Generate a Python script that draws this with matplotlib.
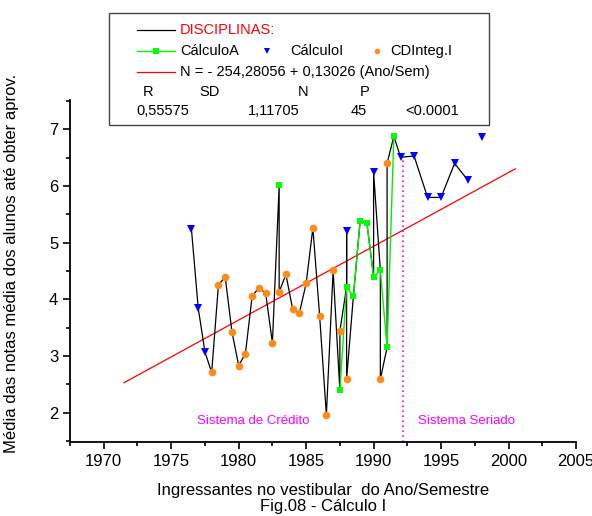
import numpy as np
import matplotlib.pyplot as plt
from matplotlib.lines import Line2D
from matplotlib.patches import Rectangle
from matplotlib.ticker import MultipleLocator

plt.rcParams['font.family'] = ['Liberation Sans', 'DejaVu Sans']

# dados (ano/semestre, nota media)
calc_a_anos = [1983.0, 1983.5, 1987.5, 1988.0, 1988.5, 1989.0, 1989.5, 1990.0, 1990.5, 1991.0, 1991.5]
calc_a_notas = [6.01, np.nan, 2.39, 4.22, 4.05, 5.38, 5.35, 4.40, 4.51, 3.15, 6.88]

calc_i_anos = [1976.5, 1977.0, 1977.5, 1988.0, 1990.0, 1992.0, 1993.0, 1994.0, 1995.0, 1996.0, 1997.0, 1998.0]
calc_i_notas = [5.24, 3.85, 3.07, 5.20, 6.24, 6.51, 6.53, 5.80, 5.80, 6.40, 6.10, 6.87]

cdint_anos = [1978.0, 1978.5, 1979.0, 1979.5, 1980.0, 1980.5, 1981.0, 1981.5, 1982.0, 1982.5,
              1983.0, 1983.5, 1984.0, 1984.5, 1985.0, 1985.5, 1986.0, 1986.5, 1987.0, 1987.5,
              1988.0, 1990.5, 1991.0]
cdint_notas = [2.71, 4.25, 4.40, 3.43, 2.83, 3.04, 4.06, 4.20, 4.11, 3.23,
               4.13, 4.44, 3.83, 3.76, 4.28, 5.26, 3.71, 1.96, 4.51, 3.44,
               2.59, 2.59, 6.40]

# regressao linear
intercepto = -254.28056
inclinacao = 0.13026
reg_anos = [1971.5, 2000.5]

ano_mudanca = 1992.2   # Sistema de Credito -> Sistema Seriado
ultimo_ano_linha = 1997.0

W, H = 592, 516
fig = plt.figure(figsize=(W / 100, H / 100), dpi=100)
ax = fig.add_axes([70 / W, 1 - 442 / H, 506 / W, 342 / H])

# linha preta ligando todas as disciplinas
pts = []
for rank, (anos, notas) in enumerate([(calc_a_anos, calc_a_notas),
                                      (calc_i_anos, calc_i_notas),
                                      (cdint_anos, cdint_notas)]):
    for a, n in zip(anos, notas):
        if not np.isnan(n) and a <= ultimo_ano_linha:
            pts.append((a, rank, n))
pts.sort()
ax.plot([p[0] for p in pts], [p[2] for p in pts], color='black', lw=0.9, zorder=2)

ax.plot(calc_a_anos, calc_a_notas, color='#00ee00', lw=1.0, marker='s', ms=4.2,
        mfc='#00ff00', mec='#00ff00', mew=0, zorder=3)
ax.plot(calc_i_anos, calc_i_notas, ls='none', marker='v', ms=6, mew=0, color='#0000ff', zorder=4)
ax.plot(cdint_anos, cdint_notas, ls='none', marker='o', ms=5.5, mew=0, color='#ff8c1a', zorder=4)

xr = np.array(reg_anos)
ax.plot(xr, intercepto + inclinacao * xr, color='#ff0000', lw=0.9, zorder=1)

ax.plot([ano_mudanca, ano_mudanca], [1.48, 6.5], color='#ff00ff', lw=1.2,
        ls=(0, (1, 2)), zorder=1)
ax.text(1981.1, 1.85, 'Sistema de Crédito', color='#ff00ff', fontsize=9.5, ha='center', va='center')
ax.text(1993.3, 1.85, 'Sistema Seriado', color='#ff00ff', fontsize=9.5, ha='left', va='center')

ax.set_xlim(1967.5, 2005)
ax.set_ylim(1.48, 7.52)
ax.xaxis.set_major_locator(MultipleLocator(5))
ax.xaxis.set_minor_locator(MultipleLocator(2.5))
ax.yaxis.set_major_locator(MultipleLocator(1))
ax.yaxis.set_minor_locator(MultipleLocator(0.5))
ax.tick_params(which='major', direction='out', length=5, width=1.2, labelsize=12)
ax.tick_params(which='minor', direction='out', length=3, width=1.2)
for s in ['top', 'right']:
    ax.spines[s].set_visible(False)
for s in ['left', 'bottom']:
    ax.spines[s].set_linewidth(1.3)

ax.set_xlabel('Ingressantes no vestibular  do Ano/Semestre', fontsize=12, labelpad=10)
ax.set_ylabel('Média das notas média dos alunos até obter aprov.', fontsize=12)
ax.yaxis.set_label_coords(-0.10, 0.523)
fig.text(323 / W, 1 - 507 / H, 'Fig.08 - Cálculo I', fontsize=12, ha='center', va='center')

# caixa de legenda
def fx(px):
    return px / W

def fy(py):
    return 1 - py / H

fig.patches.append(Rectangle((fx(109), fy(125)), fx(489) - fx(109), fy(13) - fy(125),
                             transform=fig.transFigure, fill=True, fc='white',
                             ec='#444444', lw=1.0, zorder=5))

fs = 10.5
def amostra(y, **kw):
    fig.lines.append(Line2D([fx(137), fx(175)], [fy(y), fy(y)], transform=fig.transFigure,
                            zorder=6, **kw))

amostra(30, color='black', lw=0.9)
fig.text(fx(180), fy(30), 'DISCIPLINAS:', color='#ff0000', fontsize=fs, va='center', zorder=6)
amostra(51, color='#00ff00', lw=1.0)
fig.lines.append(Line2D([fx(156)], [fy(51)], transform=fig.transFigure, marker='s', ms=4,
                        mew=0, color='#00ff00', zorder=7))
fig.text(fx(180), fy(51), 'CálculoA', fontsize=fs, va='center', zorder=6)
fig.lines.append(Line2D([fx(267)], [fy(51)], transform=fig.transFigure, marker='v', ms=5,
                        mew=0, color='#0000ff', zorder=7))
fig.text(fx(290), fy(51), 'CálculoI', fontsize=fs, va='center', zorder=6)
fig.lines.append(Line2D([fx(377)], [fy(51)], transform=fig.transFigure, marker='o', ms=4,
                        mew=0, color='#ff8c1a', zorder=7))
fig.text(fx(390), fy(51), 'CDInteg.I', fontsize=fs, va='center', zorder=6)
amostra(72, color='#ff0000', lw=0.9)
fig.text(fx(180), fy(72), 'N = - 254,28056 + 0,13026 (Ano/Sem)', fontsize=fs, va='center', zorder=6)

for txt, px in [('R', 143), ('SD', 199), ('N', 298), ('P', 360)]:
    fig.text(fx(px), fy(92), txt, fontsize=fs, va='center', zorder=6)
for txt, px in [('0,55575', 136), ('1,11705', 248), ('45', 351), ('<0.0001', 405)]:
    fig.text(fx(px), fy(111), txt, fontsize=fs, va='center', zorder=6)

fig.savefig('out.png', dpi=100)
